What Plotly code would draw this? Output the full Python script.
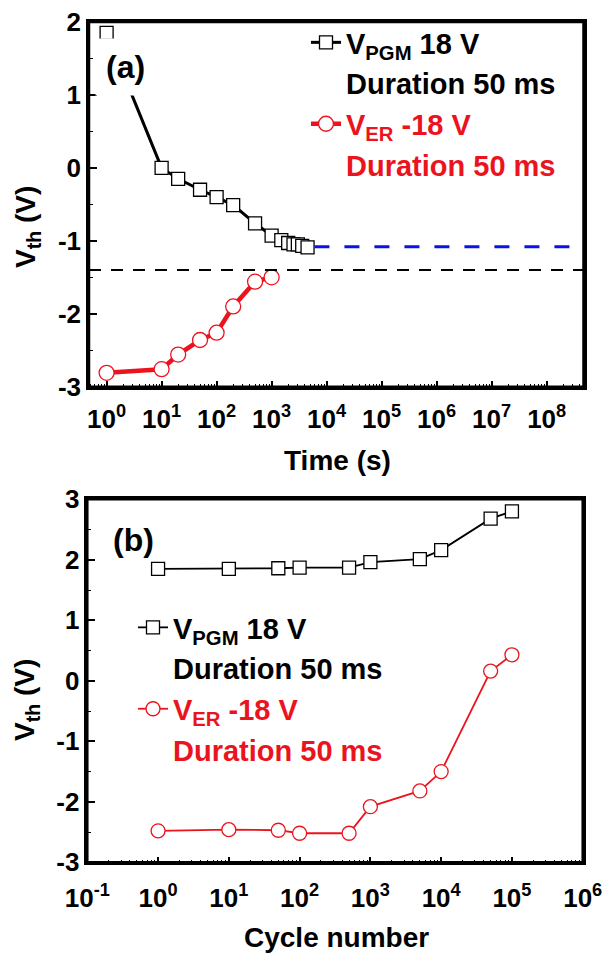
import plotly.graph_objects as go

# ---------------- data ----------------
# Panel (a): retention
time_pgm = [1, 10, 20, 50, 100, 200, 500, 1000, 1500, 2000, 2500, 3000, 3600, 4500]
vth_pgm = [1.85, 0.0, -0.15, -0.30, -0.40, -0.51, -0.76, -0.93, -0.99, -1.03, -1.05, -1.05, -1.07, -1.09]
time_er = [1, 10, 20, 50, 100, 200, 500, 1000]
vth_er = [-2.81, -2.76, -2.56, -2.36, -2.26, -1.90, -1.56, -1.50]
extrap_time = [6000, 4.6e8]
extrap_vth = [-1.08, -1.08]
window_vth = -1.40

# Panel (b): endurance
cycles = [1, 10, 50, 100, 500, 1000, 5000, 10000, 50000, 100000]
cyc_pgm = [1.85, 1.85, 1.86, 1.87, 1.87, 1.96, 2.01, 2.16, 2.68, 2.80]
cyc_er = [-2.48, -2.46, -2.47, -2.52, -2.52, -2.08, -1.82, -1.50, 0.16, 0.43]

time_ticks = [0, 1, 2, 3, 4, 5, 6, 7, 8]
cycle_ticks = [-1, 0, 1, 2, 3, 4, 5, 6]
vth_ticks_a = [-3, -2, -1, 0, 1, 2]
vth_ticks_b = [-3, -2, -1, 0, 1, 2, 3]

RED = "rgb(235,20,30)"
BLUE = "rgb(10,20,230)"
FONT = "Arial, Liberation Sans, sans-serif"
W, H = 614, 954

# plot boxes (pixels): left, right, top, bottom
BOX_A = (89, 583.5, 22, 386.7)
BOX_B = (87.3, 582.7, 499.3, 862.3)


def px(x):
    return x / W


def py(y):
    return 1 - y / H


def minor_vals(lo, hi):
    vals = []
    for e in range(lo, hi + 1):
        for m in range(2, 10):
            vals.append(m * 10 ** e)
    return vals


fig = go.Figure()

# ---- panel (a)
fig.add_trace(go.Scatter(
    x=time_pgm, y=vth_pgm, mode="lines+markers", xaxis="x", yaxis="y",
    line=dict(color="black", width=3),
    marker=dict(symbol="square", size=13, color="white", line=dict(color="black", width=1.3)),
    name="<b>V<sub>PGM</sub> 18 V</b>", legend="legend"))
fig.add_trace(go.Scatter(
    x=[None], y=[None], mode="lines", xaxis="x", yaxis="y",
    line=dict(color="rgba(0,0,0,0)", width=0),
    name="<b>Duration 50 ms</b>", legend="legend"))
fig.add_trace(go.Scatter(
    x=time_er, y=vth_er, mode="lines+markers", xaxis="x", yaxis="y",
    line=dict(color=RED, width=4.5),
    marker=dict(symbol="circle", size=15, color="white", line=dict(color=RED, width=1.3)),
    name="<b><span style='color:rgb(235,20,30)'>V<sub>ER</sub> -18 V</span></b>", legend="legend"))
fig.add_trace(go.Scatter(
    x=[None], y=[None], mode="lines", xaxis="x", yaxis="y",
    line=dict(color="rgba(0,0,0,0)", width=0),
    name="<b><span style='color:rgb(235,20,30)'>Duration 50 ms</span></b>", legend="legend"))
fig.add_trace(go.Scatter(
    x=extrap_time, y=extrap_vth, mode="lines", xaxis="x", yaxis="y",
    line=dict(color=BLUE, width=3, dash="15px,15px"), showlegend=False))

# ---- panel (b)
fig.add_trace(go.Scatter(
    x=cycles, y=cyc_pgm, mode="lines+markers", xaxis="x2", yaxis="y2",
    line=dict(color="black", width=1.8),
    marker=dict(symbol="square", size=13, color="white", line=dict(color="black", width=1.3)),
    name="<b>V<sub>PGM</sub> 18 V</b>", legend="legend2"))
fig.add_trace(go.Scatter(
    x=[None], y=[None], mode="lines", xaxis="x2", yaxis="y2",
    line=dict(color="rgba(0,0,0,0)", width=0),
    name="<b>Duration 50 ms</b>", legend="legend2"))
fig.add_trace(go.Scatter(
    x=cycles, y=cyc_er, mode="lines+markers", xaxis="x2", yaxis="y2",
    line=dict(color=RED, width=1.8),
    marker=dict(symbol="circle", size=14, color="white", line=dict(color=RED, width=1.3)),
    name="<b><span style='color:rgb(235,20,30)'>V<sub>ER</sub> -18 V</span></b>", legend="legend2"))
fig.add_trace(go.Scatter(
    x=[None], y=[None], mode="lines", xaxis="x2", yaxis="y2",
    line=dict(color="rgba(0,0,0,0)", width=0),
    name="<b><span style='color:rgb(235,20,30)'>Duration 50 ms</span></b>", legend="legend2"))

# empty traces that carry the top / right frame axes
fig.add_trace(go.Scatter(x=[None], y=[None], xaxis="x3", yaxis="y3", showlegend=False, hoverinfo="skip"))
fig.add_trace(go.Scatter(x=[None], y=[None], xaxis="x4", yaxis="y4", showlegend=False, hoverinfo="skip"))

axis_common = dict(showline=True, linecolor="black", linewidth=2.5, mirror=True, automargin=False,
                   ticks="inside", tickcolor="black", showgrid=False, zeroline=False,
                   tickfont=dict(family=FONT, size=26, color="black", weight="bold"))
frame_common = dict(showline=True, linecolor="black", linewidth=2.5, showticklabels=False,
                    ticks="", showgrid=False, zeroline=False, automargin=False, fixedrange=True)

fig.update_layout(
    width=W, height=H, margin=dict(l=0, r=0, t=0, b=0, autoexpand=False),
    paper_bgcolor="white", plot_bgcolor="white",
    font=dict(family=FONT, color="black"),
    xaxis=dict(type="log", range=[-0.32, 8.67], domain=[px(BOX_A[0]), px(BOX_A[1])], anchor="y",
               tickmode="array", tickvals=[10 ** e for e in time_ticks],
               ticktext=[f"10<sup>{e}</sup>" for e in time_ticks],
               ticklen=6, tickwidth=1.5, ticklabelstandoff=7,
               minor=dict(ticks="inside", tickmode="array", tickvals=minor_vals(-1, 8),
                          ticklen=3, tickwidth=1, tickcolor="black", showgrid=False),
               **axis_common),
    yaxis=dict(range=[-3, 2], domain=[py(BOX_A[3]), py(BOX_A[2])], anchor="x",
               tickmode="array", tickvals=vth_ticks_a, ticktext=[str(v) for v in vth_ticks_a],
               ticklen=8, tickwidth=1.5,
               minor=dict(ticks="inside", dtick=0.5, ticklen=4, tickwidth=1, tickcolor="black", showgrid=False),
               **axis_common),
    xaxis2=dict(type="log", range=[-1, 6], domain=[px(BOX_B[0]), px(BOX_B[1])], anchor="y2",
                tickmode="array", tickvals=[10 ** e for e in cycle_ticks],
                ticktext=[f"10<sup>{e}</sup>" for e in cycle_ticks],
                ticklen=6, tickwidth=1.5, ticklabelstandoff=11,
                minor=dict(ticks="inside", tickmode="array", tickvals=minor_vals(-1, 6),
                           ticklen=3, tickwidth=1, tickcolor="black", showgrid=False),
                **axis_common),
    yaxis2=dict(range=[-3, 3], domain=[py(BOX_B[3]), py(BOX_B[2])], anchor="x2",
                tickmode="array", tickvals=vth_ticks_b, ticktext=[str(v) for v in vth_ticks_b],
                ticklen=8, tickwidth=1.5,
                minor=dict(ticks="inside", dtick=0.5, ticklen=4, tickwidth=1, tickcolor="black", showgrid=False),
                **axis_common),
    # frame axes: top x and right y for each panel
    xaxis3=dict(overlaying="x", side="top", anchor="y3", type="log", range=[-0.32, 8.67], **frame_common),
    yaxis3=dict(overlaying="y", side="right", anchor="x3", range=[-3, 2], **frame_common),
    xaxis4=dict(overlaying="x2", side="top", anchor="y4", type="log", range=[-1, 6], **frame_common),
    yaxis4=dict(overlaying="y2", side="right", anchor="x4", range=[-3, 3], **frame_common),
    legend=dict(x=px(306), y=py(17), xanchor="left", yanchor="top",
                font=dict(family=FONT, size=29, color="black"),
                bgcolor="rgba(0,0,0,0)", borderwidth=0, tracegroupgap=0),
    legend2=dict(x=px(133), y=py(602), xanchor="left", yanchor="top",
                 font=dict(family=FONT, size=29, color="black"),
                 bgcolor="rgba(0,0,0,0)", borderwidth=0, tracegroupgap=0),
    showlegend=True,
)

# plot frames drawn in paper coordinates
for (l, r, t, b) in (BOX_A, BOX_B):
    fig.add_shape(type="rect", xref="paper", yref="paper", x0=px(l), x1=px(r), y0=py(b), y1=py(t),
                  line=dict(color="black", width=2.5), fillcolor="rgba(0,0,0,0)", layer="above")

# window reference line
fig.add_shape(type="line", xref="x domain", yref="y", x0=0, x1=1, y0=window_vth, y1=window_vth,
              line=dict(color="black", width=2, dash="12px,10px"))

# panel labels
fig.add_annotation(xref="paper", yref="paper", x=px(125), y=py(67), xanchor="center", yanchor="middle",
                   text="<b>(a)</b>", showarrow=False, font=dict(family=FONT, size=32, color="black"),
                   bgcolor="white", borderpad=10)
fig.add_annotation(xref="paper", yref="paper", x=px(133), y=py(540), xanchor="center", yanchor="middle",
                   text="<b>(b)</b>", showarrow=False, font=dict(family=FONT, size=32, color="black"))

# axis titles
for (x, y, t, ang) in [(28, 227, "<b>V<sub>th</sub> (V)</b>", -90),
                       (26, 700, "<b>V<sub>th</sub> (V)</b>", -90),
                       (337, 461, "<b>Time (s)</b>", 0),
                       (336, 937, "<b>Cycle number</b>", 0)]:
    fig.add_annotation(xref="paper", yref="paper", x=px(x), y=py(y), xanchor="center", yanchor="middle",
                       text=t, textangle=ang, showarrow=False,
                       font=dict(family=FONT, size=28, color="black"))

fig.write_html("out.html", config={"displayModeBar": False},
               post_script="document.body.style.margin='0px';document.body.style.overflow='hidden';")
